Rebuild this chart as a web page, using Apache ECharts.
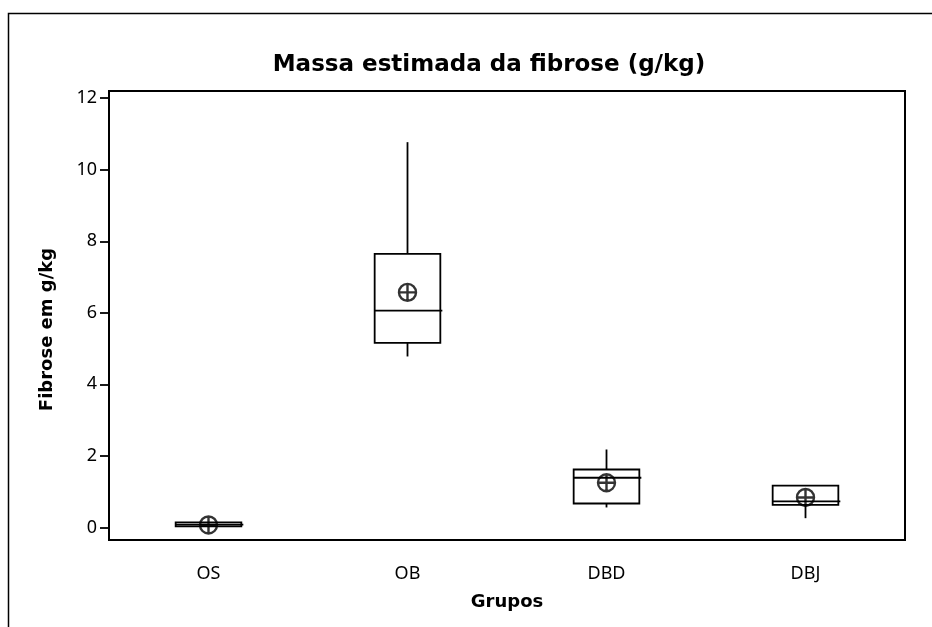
<!DOCTYPE html>
<html>
<head>
<meta charset="utf-8">
<script src="https://cdn.jsdelivr.net/npm/echarts@6/dist/echarts.min.js"></script>
<style>
  html, body { margin: 0; padding: 0; background: #fff; }
  #chart { width: 932px; height: 627px; }
</style>
</head>
<body>
<div id="chart"></div>
<script>
// Groups on the horizontal axis
const groups = ['OS', 'OB', 'DBD', 'DBJ'];
// Box summary per group: [lower whisker, Q1, median, Q3, upper whisker]
const lowWhisker = [0.02, 4.78, 0.56, 0.26];
const q1 = [0.03, 5.16, 0.67, 0.63];
const median = [0.08, 6.06, 1.39, 0.73];
const q3 = [0.14, 7.65, 1.62, 1.17];
const highWhisker = [0.15, 10.77, 2.18, 1.18];
// Group means (circle with cross)
const means = [0.07, 6.57, 1.25, 0.84];
// Y-axis tick labels
const yTicks = [0, 2, 4, 6, 8, 10, 12];

const boxData = groups.map((g, i) => [i, lowWhisker[i], q1[i], median[i], q3[i], highWhisker[i]]);
const meanData = groups.map((g, i) => [i, means[i]]);

const chart = echarts.init(document.getElementById('chart'), null, { renderer: 'canvas' });

const LW = 1.8;
const lineStyle = { stroke: '#000', lineWidth: LW, fill: null };

function renderBox(params, api) {
  const x = api.value(0);
  const pLo = api.coord([x, api.value(1)]);
  const pQ1 = api.coord([x, api.value(2)]);
  const pMed = api.coord([x, api.value(3)]);
  const pQ3 = api.coord([x, api.value(4)]);
  const pHi = api.coord([x, api.value(5)]);
  const bw = api.size([1, 0])[0] * 0.33;
  const cx = pQ1[0];
  const left = cx - bw / 2;
  return {
    type: 'group',
    children: [
      { type: 'line', shape: { x1: cx, y1: pHi[1], x2: cx, y2: pQ3[1] }, style: lineStyle },
      { type: 'line', shape: { x1: cx, y1: pQ1[1], x2: cx, y2: pLo[1] }, style: lineStyle },
      { type: 'rect', shape: { x: left, y: pQ3[1], width: bw, height: pQ1[1] - pQ3[1] },
        style: { stroke: '#000', lineWidth: LW, fill: '#fff' } },
      { type: 'line', shape: { x1: left, y1: pMed[1], x2: left + bw + 2, y2: pMed[1] }, style: lineStyle }
    ]
  };
}

const meanSymbol = 'path://M0,-10A10,10 0 1,1 0,10A10,10 0 1,1 0,-10Z M-10,0L10,0 M0,-10L0,10';

chart.setOption({
  animation: false,
  backgroundColor: '#fff',
  graphic: [
    {
      type: 'polyline',
      shape: { points: [[8.5, 640], [8.5, 13.5], [940, 13.5]] },
      style: { stroke: '#000', lineWidth: 1.5, fill: null },
      silent: true
    }
  ],
  title: {
    text: 'Massa estimada da fibrose (g/kg)',
    left: 484,
    textAlign: 'center',
    top: 49,
    textStyle: { fontFamily: 'DejaVu Sans', fontWeight: 'bold', fontSize: 23, color: '#000' }
  },
  grid: {
    left: 109, right: 27, top: 91, bottom: 87,
    show: true, borderColor: '#000', borderWidth: 2, backgroundColor: 'transparent'
  },
  xAxis: {
    type: 'category',
    data: groups,
    boundaryGap: true,
    name: 'Grupos',
    nameLocation: 'middle',
    nameGap: 53,
    nameTextStyle: { fontFamily: 'DejaVu Sans', fontWeight: 'bold', fontSize: 18, color: '#000' },
    axisLine: { onZero: false, lineStyle: { color: '#000', width: 2 } },
    axisTick: { alignWithLabel: true, length: 9, lineStyle: { color: '#000', width: 1.8 } },
    axisLabel: { fontFamily: 'Noto Sans', fontSize: 18, color: '#000', margin: 25 },
    splitLine: { show: false }
  },
  yAxis: {
    type: 'value',
    min: -0.35,
    max: 12.2,
    name: 'Fibrose em g/kg',
    nameLocation: 'middle',
    nameGap: 53,
    nameRotate: 90,
    nameTextStyle: { fontFamily: 'DejaVu Sans', fontWeight: 'bold', fontSize: 18, color: '#000', padding: [0, 28, 0, 0] },
    axisLine: { show: true, lineStyle: { color: '#000', width: 2 } },
    axisTick: { show: true, length: 9, customValues: yTicks, lineStyle: { color: '#000', width: 1.8 } },
    axisLabel: { fontFamily: 'Noto Sans', fontSize: 18, color: '#000', margin: 12, customValues: yTicks },
    splitLine: { show: false }
  },
  series: [
    {
      type: 'custom',
      renderItem: renderBox,
      data: boxData,
      encode: { x: 0, y: [1, 2, 3, 4, 5] },
      z: 2
    },
    {
      type: 'scatter',
      data: meanData,
      symbol: meanSymbol,
      symbolSize: 17,
      itemStyle: { color: 'transparent', borderColor: '#000', borderWidth: 2.4 },
      z: 3
    }
  ]
});
</script>
</body>
</html>
